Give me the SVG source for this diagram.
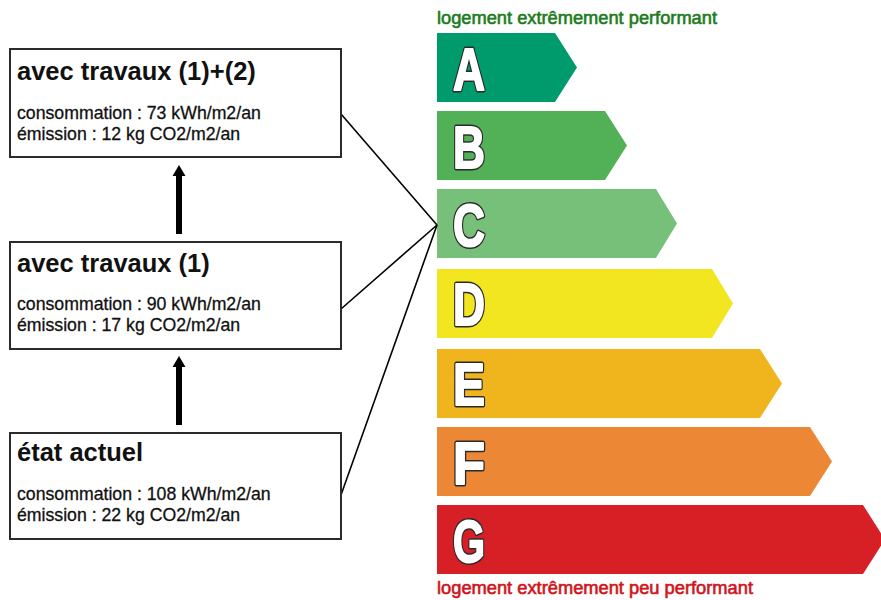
<svg xmlns="http://www.w3.org/2000/svg" width="881" height="600" viewBox="0 0 881 600">
<style>
.box{fill:#fff;stroke:#2b2b2b;stroke-width:2}
.title{font-family:"Liberation Sans",Arial,sans-serif;font-weight:bold;font-size:25.5px;fill:#111}
.body{font-family:"Liberation Sans",Arial,sans-serif;font-size:17.7px;fill:#111;stroke:#111;stroke-width:0.3}
.letter{font-family:"Liberation Sans",Arial,sans-serif;font-weight:bold;font-size:60px;text-anchor:middle}
.lo{fill:#2a2a2a;stroke:#2a2a2a;stroke-width:5;stroke-linejoin:round}
.hi{fill:#fff;stroke:#fff;stroke-width:2;stroke-linejoin:round}
.conn{stroke:#000;stroke-width:1.6;fill:none}
.up{fill:#000}
.lbl{font-family:"Liberation Sans",Arial,sans-serif;font-size:18px;stroke-width:0.6}
</style>
<defs>
<text id="tA" class="letter" x="469" y="90" textLength="32" lengthAdjust="spacingAndGlyphs">A</text>
<text id="tB" class="letter" x="469" y="168" textLength="32" lengthAdjust="spacingAndGlyphs">B</text>
<text id="tC" class="letter" x="469" y="246" textLength="32" lengthAdjust="spacingAndGlyphs">C</text>
<text id="tD" class="letter" x="469" y="325" textLength="32" lengthAdjust="spacingAndGlyphs">D</text>
<text id="tE" class="letter" x="469" y="405" textLength="32" lengthAdjust="spacingAndGlyphs">E</text>
<text id="tF" class="letter" x="469" y="484" textLength="32" lengthAdjust="spacingAndGlyphs">F</text>
<text id="tG" class="letter" x="469" y="562" textLength="32" lengthAdjust="spacingAndGlyphs">G</text>
</defs>
<rect width="881" height="600" fill="#fff"/>

<text class="lbl" x="437" y="24" fill="#1c7c1c" stroke="#1c7c1c" textLength="280" lengthAdjust="spacingAndGlyphs">logement extrêmement performant</text>
<text class="lbl" x="437" y="594" fill="#d0141a" stroke="#d0141a" textLength="316" lengthAdjust="spacingAndGlyphs">logement extrêmement peu performant</text>

<g id="class-A"><polygon points="437,33 555,33 577,67.5 555,102 437,102" fill="#009b6c"/><use href="#tA" class="lo"/><use href="#tA" class="hi"/></g>
<g id="class-B"><polygon points="437,111 605,111 627,145.5 605,180 437,180" fill="#52b157"/><use href="#tB" class="lo"/><use href="#tB" class="hi"/></g>
<g id="class-C"><polygon points="437,189 656,189 677,223.5 656,258 437,258" fill="#77c07a"/><use href="#tC" class="lo"/><use href="#tC" class="hi"/></g>
<g id="class-D"><polygon points="437,269 712,269 733,303.5 712,338 437,338" fill="#f2e620"/><use href="#tD" class="lo"/><use href="#tD" class="hi"/></g>
<g id="class-E"><polygon points="437,349 760,349 782,383.5 760,418 437,418" fill="#f0b51c"/><use href="#tE" class="lo"/><use href="#tE" class="hi"/></g>
<g id="class-F"><polygon points="437,427 810,427 832,461.5 810,496 437,496" fill="#ec8736"/><use href="#tF" class="lo"/><use href="#tF" class="hi"/></g>
<g id="class-G"><polygon points="437,505 863,505 885,539.5 863,574 437,574" fill="#d71f26"/><use href="#tG" class="lo"/><use href="#tG" class="hi"/></g>

<g id="connectors">
<line class="conn" x1="341" y1="114" x2="437" y2="225"/>
<line class="conn" x1="341" y1="309" x2="437" y2="225"/>
<line class="conn" x1="341" y1="495" x2="437" y2="225"/>
<polygon class="up" points="179,165 185.5,176 182,176 182,234 176,234 176,176 172.5,176"/>
<polygon class="up" points="179,356 185.5,367 182,367 182,425 176,425 176,367 172.5,367"/>
</g>

<g id="node-travaux-1-2">
<rect class="box" x="10" y="49" width="331" height="108"/>
<text class="title" x="17" y="80">avec travaux (1)+(2)</text>
<text class="body" x="17" y="119">consommation : 73 kWh/m2/an</text>
<text class="body" x="17" y="140">émission : 12 kg CO2/m2/an</text>
</g>
<g id="node-travaux-1">
<rect class="box" x="10" y="242" width="331" height="107"/>
<text class="title" x="17" y="272">avec travaux (1)</text>
<text class="body" x="17" y="310">consommation : 90 kWh/m2/an</text>
<text class="body" x="17" y="331">émission : 17 kg CO2/m2/an</text>
</g>
<g id="node-etat-actuel">
<rect class="box" x="10" y="433" width="331" height="106"/>
<text class="title" x="17" y="461">état actuel</text>
<text class="body" x="17" y="500">consommation : 108 kWh/m2/an</text>
<text class="body" x="17" y="521">émission : 22 kg CO2/m2/an</text>
</g>
</svg>
